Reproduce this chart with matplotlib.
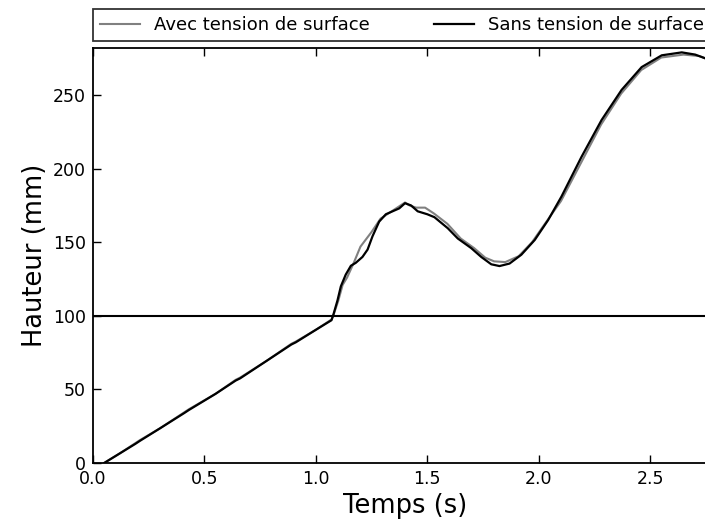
import numpy as np
import matplotlib
matplotlib.use("Agg")
from matplotlib import pyplot as plt

# hauteur du front (mm) en fonction du temps (s)
t_avec = [0.05, 0.12, 0.19, 0.21, 0.30, 0.41, 0.43, 0.55, 0.64, 0.66, 0.78,
          0.89, 0.91, 1.00, 1.07, 1.08, 1.10, 1.12, 1.14, 1.17, 1.20, 1.22,
          1.25, 1.29, 1.32, 1.35, 1.37, 1.40, 1.42, 1.45, 1.49, 1.53, 1.59,
          1.65, 1.71, 1.76, 1.80, 1.85, 1.91, 1.97, 2.03, 2.10, 2.19, 2.28,
          2.37, 2.46, 2.55, 2.65, 2.72, 2.80]
h_avec = [0.0, 6.5, 13.5, 15.5, 23.5, 34.5, 36.5, 47.0, 56.5, 58.0, 69.5,
          81.0, 82.5, 90.5, 97.5, 101.0, 110.0, 121.0, 126.0, 136.0, 147.0, 151.0,
          157.0, 166.0, 169.0, 172.0, 174.0, 177.0, 175.0, 173.5, 173.5, 169.5, 162.5,
          152.5, 146.0, 139.5, 137.0, 136.5, 140.5, 150.0, 163.0, 178.0, 204.0, 230.0,
          251.0, 267.0, 275.5, 277.5, 276.5, 272.0]

t_sans = [0.05, 0.12, 0.19, 0.21, 0.30, 0.41, 0.43, 0.55, 0.64, 0.66, 0.78,
          0.89, 0.91, 1.00, 1.07, 1.077, 1.097, 1.112, 1.134, 1.157, 1.179, 1.209,
          1.232, 1.254, 1.284, 1.314, 1.344, 1.374, 1.40, 1.427, 1.457, 1.50, 1.532,
          1.592, 1.637, 1.697, 1.742, 1.787, 1.824, 1.869, 1.922, 1.982, 2.042, 2.102,
          2.192, 2.282, 2.372, 2.462, 2.552, 2.642, 2.702, 2.80]
h_sans = [0.0, 6.5, 13.0, 15.0, 23.5, 34.0, 36.0, 47.0, 56.0, 57.5, 69.5,
          80.5, 82.0, 90.5, 97.0, 100.0, 110.5, 120.0, 128.0, 134.0, 136.0, 140.0,
          145.0, 154.0, 164.0, 169.0, 171.0, 173.0, 176.5, 175.0, 171.0, 169.0, 167.0,
          159.5, 152.5, 146.0, 140.0, 135.0, 133.8, 135.5, 141.5, 151.5, 165.0, 181.0,
          208.0, 233.0, 253.5, 269.0, 277.0, 279.0, 277.5, 272.0]

seuil = 100

fig = plt.figure(figsize=(7.05, 5.27), dpi=100)
ax = fig.add_axes([0.132, 0.1215, 0.885, 0.7875])

ax.plot(t_avec, h_avec, color="0.5", lw=1.5, label="Avec tension de surface")
ax.plot(t_sans, h_sans, color="k", lw=1.6, label="Sans tension de surface")
ax.axhline(seuil, color="k", lw=1.5)

ax.set_xlim(0, 2.8)
ax.set_ylim(0, 282)
ax.set_xticks([0.0, 0.5, 1.0, 1.5, 2.0, 2.5])
ax.set_yticks([0, 50, 100, 150, 200, 250])
ax.tick_params(direction="in", top=True, right=True, length=6, width=1,
               labelsize=12.5, pad=5)
for s in ax.spines.values():
    s.set_linewidth(1.3)

ax.set_xlabel("Temps (s)", fontsize=18.5)
ax.set_ylabel("Hauteur (mm)", fontsize=18.5)

# legende au-dessus des axes, sur toute la largeur
leg = fig.legend(loc="lower left", ncol=2, mode="expand",
                 bbox_to_anchor=(0.132, 0.922, 0.877, 0.0626),
                 bbox_transform=fig.transFigure, fontsize=13,
                 fancybox=False, borderaxespad=0.0, handlelength=2.2)
leg.get_frame().set_edgecolor("k")
leg.get_frame().set_linewidth(1.3)

fig.savefig("out.png", dpi=100)
